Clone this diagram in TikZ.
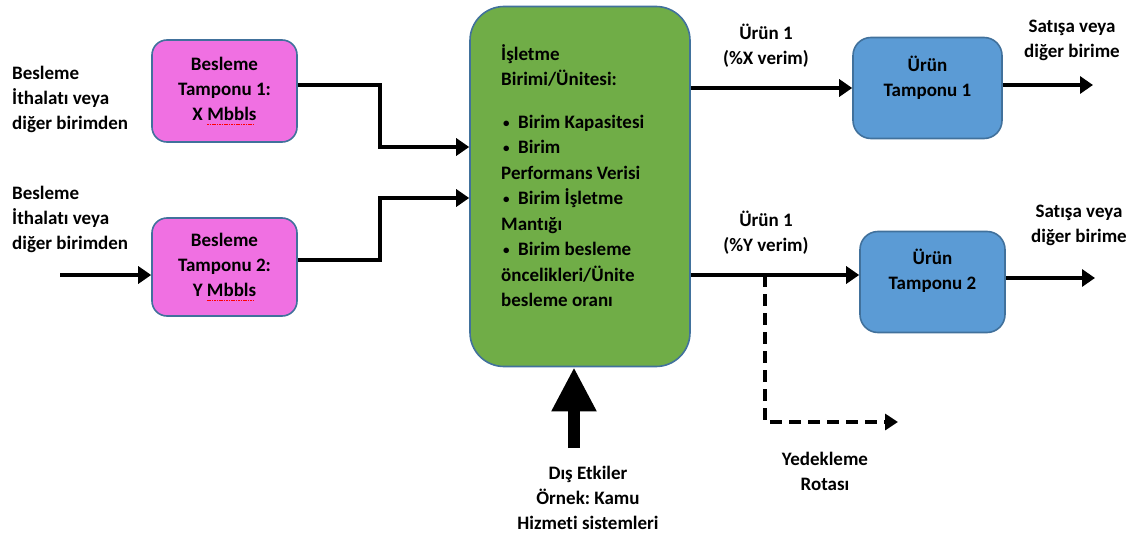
\documentclass[tikz,border=0pt]{standalone}
\usepackage{fontspec}
\setmainfont{Carlito}[Ligatures=NoCommon]
\usetikzlibrary{arrows.meta}
\frenchspacing

% red dotted spell-check mark under a word
\newsavebox\markbox
\newcommand\spellmark[1]{\sbox\markbox{#1}%
  \rlap{\color{red}\leaders\hbox{\rule[-3.5pt]{1.6pt}{0.9pt}\kern0.8pt}\hskip\wd\markbox}%
  \usebox\markbox}
% small list bullet
\newcommand\itembul{\makebox[17pt][l]{\hspace{2pt}\raisebox{1pt}{\fontsize{13}{13}\selectfont•}}}

\definecolor{feedpink}{RGB}{240,112,226}
\definecolor{unitgreen}{RGB}{112,173,71}
\definecolor{prodblue}{RGB}{91,155,213}
\definecolor{edgeblue}{RGB}{65,113,156}

\tikzset{
  lbl/.style={inner sep=0pt, font=\bfseries\fontsize{19}{25}\selectfont},
  boxbase/.style={draw=edgeblue, line width=1.6pt, inner sep=0pt},
  feedbox/.style={boxbase, fill=feedpink, rounded corners=15pt,
    minimum width=145pt, align=center, font=\bfseries\fontsize{19}{25}\selectfont},
  unitbox/.style={boxbase, fill=unitgreen, rounded corners=34pt,
    minimum width=220pt, minimum height=360pt},
  prodbox/.style={boxbase, fill=prodblue, rounded corners=18pt,
    minimum height=101pt},
  flow/.style={line width=4pt, -{Triangle[length=13pt,width=17pt]}},
  backup/.style={line width=4pt, dash pattern=on 12pt off 7pt,
    -{Triangle[length=13pt,width=16pt]}},
  bigarrow/.style={line width=12pt, -{Triangle[length=44pt,width=42pt]}}
}

\begin{document}
\begin{tikzpicture}[x=1pt,y=-1pt]
\useasboundingbox (0,0) rectangle (1138,535);

% feed buffers
\node[feedbox, minimum height=102pt] (p1) at (224.5,91)
  {Besleme\\Tamponu 1:\\X \spellmark{Mbbls}};
\node[feedbox, minimum height=98pt] (p2) at (224.5,267)
  {Besleme\\Tamponu 2:\\Y \spellmark{Mbbls}};

% operating unit
\node[unitbox] (unit) at (580,186.5) {};
\node[lbl, font=\bfseries\fontsize{19}{25.5}\selectfont, align=left, anchor=north west]
  (unittext) at (501,44)
  {İşletme\\Birimi/Ünitesi:\\[17pt]
   \itembul Birim Kapasitesi\\
   \itembul Birim\\
   Performans Verisi\\
   \itembul Birim İşletme\\
   Mantığı\\
   \itembul Birim besleme\\
   öncelikleri/Ünite\\
   besleme oranı};

% product buffers
\node[prodbox, minimum width=149pt] (b1) at (927.5,88) {};
\node[lbl, align=center] (b1text) at (927.5,77.5) {Ürün\\Tamponu 1};
\node[prodbox, minimum width=145pt] (b2) at (932.5,282) {};
\node[lbl, align=center] (b2text) at (932.5,270.5) {Ürün\\Tamponu 2};

% free text
\node[lbl, align=left, anchor=west] (in1) at (12,99)
  {Besleme\\İthalatı veya\\diğer birimden};
\node[lbl, align=left, anchor=west] (in2) at (12,219)
  {Besleme\\İthalatı veya\\diğer birimden};
\node[lbl, align=center] (y1) at (766,45.5) {Ürün 1\\(\%X verim)};
\node[lbl, align=center] (y2) at (766,232.5) {Ürün 1\\(\%Y verim)};
\node[lbl, align=center] (out1) at (1072,40) {Satışa veya\\diğer birime};
\node[lbl, align=center] (out2) at (1079,225) {Satışa veya\\diğer birime};
\node[lbl, align=center] (ext) at (588,498)
  {Dış Etkiler\\Örnek: Kamu\\Hizmeti sistemleri};
\node[lbl, align=center] (bk) at (825,471) {Yedekleme\\Rotası};

% free ends and bends
\coordinate (src2) at (60,275);
\coordinate (end1) at (1093,85);
\coordinate (end2) at (1095,278);
\coordinate (split) at (765,275);
\coordinate (bkcorner) at (765,422);
\coordinate (bkend) at (898,422);
\coordinate (extbase) at (574,448);

% feeds into the unit
\draw[flow] (src2) -- (src2 -| p2.west);
\draw[flow] (p1.east |- 0,85) -- (380,85) |- (unit.west |- 0,147);
\draw[flow] (p2.east |- 0,260) -- (380,260) |- (unit.west |- 0,198);

% products out of the unit
\draw[flow] (unit.east |- b1.west) -- (b1.west);
\draw[flow] (unit.east |- split) -- (split -| b2.west);
\draw[flow] (b1.east |- end1) -- (end1);
\draw[flow] (b2.east |- end2) -- (end2);

% backup route
\draw[backup] (split) -- (bkcorner) -- (bkend);

% external influences
\draw[bigarrow] (extbase) -- (extbase |- unit.south);
\end{tikzpicture}
\end{document}
